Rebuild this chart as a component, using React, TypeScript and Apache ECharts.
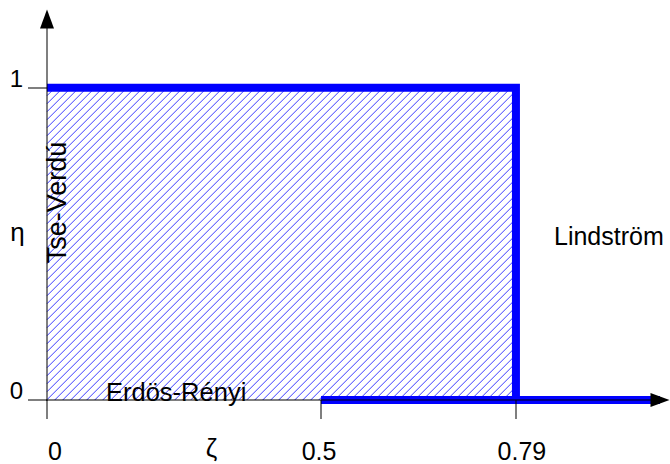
import React, { useEffect, useRef } from "react";
import * as echarts from "echarts";

// ---- data ----
const xTickValues = [0, 0.5, 0.79];
const xTickLabels = ["0", "0.5", "0.79"];
const yTickValues = [0, 1];
const yTickLabels = ["0", "1"];
const yAxisEnd = 1.22;
// the ζ axis is schematic (not proportional): breakpoints and their relative place on the axis
const xBreaks = [0, 0.5, 0.79, 1];
const xSlots = [0, 0.447, 0.765, 1];

const upperBoundary = [
  [0, 1],
  [0.79, 1],
  [0.79, 0],
];
const lowerBoundary = [
  [0.5, 0],
  [1, 0],
];
const hatchedRegion = [[0, 0.79, 0, 1]]; // x0, x1, y0, y1

const FONT = '"Liberation Sans", Arial, Helvetica, sans-serif';
const HATCH_STEP = 8;

function warp(v: number): number {
  for (let i = 1; i < xBreaks.length; i++) {
    if (v <= xBreaks[i] || i === xBreaks.length - 1) {
      const t = (v - xBreaks[i - 1]) / (xBreaks[i] - xBreaks[i - 1]);
      return xSlots[i - 1] + t * (xSlots[i] - xSlots[i - 1]);
    }
  }
  return v;
}

export default function App() {
  const ref = useRef<HTMLDivElement>(null);
  useEffect(() => {
    if (!ref.current) return;
    const chart = echarts.init(ref.current, undefined, { renderer: "svg" });
    const axisGrey = "rgba(0,0,0,0.5)";
    const xLabelPad: Record<string, number[]> = {
      a0: [0, 0, 0, 16],
      a1: [0, 4, 0, 0],
      a2: [0, 0, 0, 12],
    };
    const rich: any = {};
    Object.keys(xLabelPad).forEach((k) => {
      rich[k] = { fontSize: 25, fontFamily: FONT, color: "#000", padding: xLabelPad[k] };
    });
    const xSlotTicks = xTickValues.map(warp);

    const arrowAxis = {
      show: true,
      z: 6,
      splitLine: { show: false },
      axisTick: { show: false },
      axisLabel: { show: false },
      axisLine: {
        show: true,
        lineStyle: { color: "#000", width: 0 },
        symbol: ["none", "triangle"],
        symbolSize: [14, 19],
      },
    };

    chart.setOption({
      animation: false,
      backgroundColor: "#fff",
      grid: { left: 47, right: 10, top: 19, bottom: 64 },
      xAxis: [
        {
          type: "value",
          min: 0,
          max: 1,
          z: 5,
          splitLine: { show: false },
          axisLine: {
            show: true,
            lineStyle: { color: axisGrey, width: 2 },
          },
          axisTick: {
            show: true,
            length: 19,
            customValues: xSlotTicks,
            lineStyle: { color: axisGrey, width: 2 },
          },
          axisLabel: {
            show: true,
            customValues: xSlotTicks,
            margin: 38,
            fontSize: 25,
            fontFamily: FONT,
            color: "#000",
            rich,
            formatter: (v: number) => {
              let best = 0;
              xSlotTicks.forEach((s, i) => {
                if (Math.abs(s - v) < Math.abs(xSlotTicks[best] - v)) best = i;
              });
              return `{a${best}|${xTickLabels[best]}}`;
            },
          },
        },
        { ...arrowAxis, type: "value", min: 0, max: 1, position: "bottom" },
      ],
      yAxis: [
        {
          type: "value",
          min: 0,
          max: yAxisEnd,
          z: 5,
          splitLine: { show: false },
          axisLine: {
            show: true,
            lineStyle: { color: axisGrey, width: 2 },
          },
          axisTick: {
            show: true,
            length: 19,
            customValues: yTickValues,
            lineStyle: { color: axisGrey, width: 2 },
          },
          axisLabel: {
            show: true,
            customValues: yTickValues,
            margin: 24,
            fontSize: 24,
            fontFamily: FONT,
            color: "#000",
            verticalAlign: "bottom",
            lineHeight: 19,
            formatter: (v: number) => yTickLabels[yTickValues.indexOf(v)] ?? "",
          },
        },
        { ...arrowAxis, type: "value", min: 0, max: yAxisEnd, position: "left" },
      ],
      series: [
        {
          type: "custom",
          z: 1,
          clip: false,
          encode: { x: [0, 1], y: [2, 3] },
          data: hatchedRegion.map((r) => [warp(r[0]), warp(r[1]), r[2], r[3]]),
          renderItem: (params: any, api: any) => {
            const p0 = api.coord([api.value(0), api.value(3)]);
            const p1 = api.coord([api.value(1), api.value(2)]);
            const x0 = p0[0], y0 = p0[1], x1 = p1[0], y1 = p1[1];
            const children: any[] = [];
            // "/" hatching: lines x + y = c, clipped to the rectangle
            for (let c = x0 + y0; c <= x1 + y1; c += HATCH_STEP) {
              let ax = c - y1, ay = y1;
              if (ax < x0) { ax = x0; ay = c - x0; }
              let bx = c - y0, by = y0;
              if (bx > x1) { bx = x1; by = c - x1; }
              if (ay < y0 || by > y1 || ax > x1 || bx < x0) continue;
              children.push({
                type: "line",
                shape: { x1: ax, y1: ay, x2: bx, y2: by },
                style: { stroke: "rgb(60,60,255)", lineWidth: 1 },
              });
            }
            return { type: "group", children };
          },
        },
        {
          type: "line",
          z: 2,
          clip: false,
          symbol: "none",
          data: upperBoundary.map((p) => [warp(p[0]), p[1]]),
          lineStyle: { color: "#0000ff", width: 8, join: "miter", cap: "butt" },
        },
        {
          type: "line",
          z: 2,
          clip: false,
          symbol: "none",
          data: lowerBoundary.map((p) => [warp(p[0]), p[1]]),
          lineStyle: { color: "#0000ff", width: 8, join: "miter", cap: "butt" },
        },
      ],
      graphic: [
        {
          type: "text",
          x: 211.5,
          y: 448,
          style: { text: "ζ", fontSize: 26, fontFamily: FONT, fill: "#000", textAlign: "center", verticalAlign: "middle" },
        },
        {
          type: "text",
          x: 17.5,
          y: 232,
          style: { text: "η", fontSize: 26, fontFamily: FONT, fill: "#000", textAlign: "center", verticalAlign: "middle" },
        },
        {
          type: "text",
          x: 106,
          y: 391.5,
          z: 10,
          style: { text: "Erdös-Rényi", fontSize: 25.5, fontFamily: FONT, fill: "#000", textAlign: "left", verticalAlign: "middle" },
        },
        {
          type: "text",
          x: 554,
          y: 236,
          style: { text: "Lindström", fontSize: 25, fontFamily: FONT, fill: "#000", textAlign: "left", verticalAlign: "middle" },
        },
        {
          type: "text",
          x: 57,
          y: 202.5,
          rotation: Math.PI / 2,
          z: 10,
          style: { text: "Tse-Verdú", fontSize: 27, fontFamily: FONT, fill: "#000", textAlign: "center", verticalAlign: "middle" },
        },
      ],
    });
    return () => chart.dispose();
  }, []);
  return <div ref={ref} style={{ width: 670, height: 464, position: "absolute", left: 0, top: 0 }} />;
}
